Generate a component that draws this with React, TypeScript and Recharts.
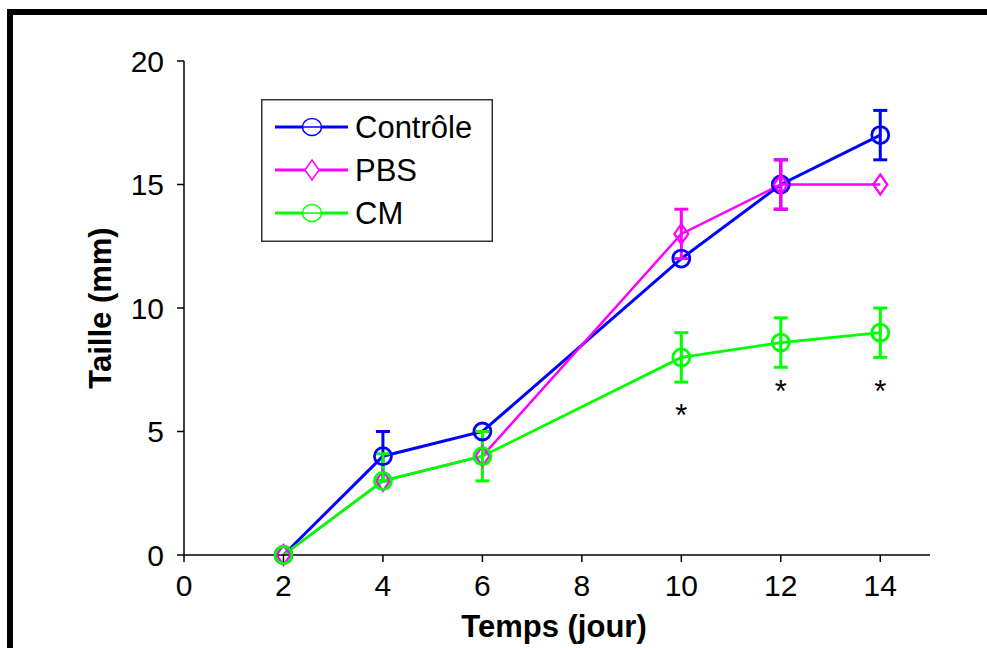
import React from "react";
import {
  ComposedChart,
  Line,
  Scatter,
  XAxis,
  YAxis,
  ErrorBar,
  Legend,
} from "recharts";

const days = [2, 4, 6, 10, 12, 14];
const controle = [0, 4, 5, 12, 15, 17];
const controleErr: (number | number[] | null)[] = [null, 1, null, null, 1, 1];
const pbs = [0, 3, 4, 13, 15, 15];
const pbsErr: (number | number[] | null)[] = [null, null, null, 1, 1, null];
const cm = [0, 3, 4, 8, 8.6, 9];
const cmErr: (number | number[] | null)[] = [null, [0, 1.1], 1, 1, 1, 1];

const starDays = [10, 12, 14];
const starLevels = [5.8, 6.75, 6.75];

const xTicks = [0, 2, 4, 6, 8, 10, 12, 14];
const yTicks = [0, 5, 10, 15, 20];

const seriesNames = ["Contrôle", "PBS", "CM"];
const seriesColors = ["#0000ff", "#ff00ff", "#00ff00"];

const data = days.map((d, i) => ({
  day: d,
  controle: controle[i],
  controleErr: controleErr[i],
  pbs: pbs[i],
  pbsErr: pbsErr[i],
  cm: cm[i],
  cmErr: cmErr[i],
}));

const stars = starDays.map((d, i) => ({ day: d, level: starLevels[i] }));

const FONT = "'Liberation Sans', Arial, sans-serif";

const ring = (color: string) => (props: any) => {
  const { cx, cy, index } = props;
  if (cx == null || cy == null) return <g key={index} />;
  return (
    <circle
      key={index}
      cx={cx}
      cy={cy}
      r={8.5}
      fill="none"
      stroke={color}
      strokeWidth={2.8}
    />
  );
};

const diamond = (color: string) => (props: any) => {
  const { cx, cy, index } = props;
  if (cx == null || cy == null) return <g key={index} />;
  return (
    <path
      key={index}
      d={`M${cx},${cy - 10}L${cx + 7},${cy}L${cx},${cy + 10}L${cx - 7},${cy}Z`}
      fill="none"
      stroke={color}
      strokeWidth={2.2}
    />
  );
};

const StarMark = (props: any) => {
  const { cx, cy } = props;
  return (
    <text
      x={cx}
      y={cy + 14}
      textAnchor="middle"
      fontSize={31}
      fontFamily={FONT}
      fill="#000"
    >
      *
    </text>
  );
};

const LegendBox = () => (
  <svg width={232} height={143} style={{ display: "block" }}>
    <rect x={0.75} y={0.75} width={230.5} height={141.5} fill="#fff" stroke="#333" strokeWidth={1.5} />
    {seriesNames.map((name, i) => {
      const cy = 28 + i * 43;
      const color = seriesColors[i];
      return (
        <g key={name}>
          <line x1={14} x2={87} y1={cy} y2={cy} stroke={color} strokeWidth={3} />
          {i === 1 ? (
            <path
              d={`M51,${cy - 10}L58,${cy}L51,${cy + 10}L44,${cy}Z`}
              fill="#fff"
              stroke={color}
              strokeWidth={1.5}
            />
          ) : (
            <ellipse cx={51} cy={cy} rx={9.5} ry={8.5} fill="#fff" stroke={color} strokeWidth={1.5} />
          )}
          {i !== 1 && <line x1={42} x2={60} y1={cy} y2={cy} stroke={color} strokeWidth={1.5} />}
          <text x={94} y={cy + 10.5} fontSize={31} fontFamily={FONT} fill="#000">
            {name}
          </text>
        </g>
      );
    })}
  </svg>
);

const YTitle = (props: any) => {
  const { viewBox } = props;
  const x = viewBox.x + 16;
  const y = viewBox.y + viewBox.height / 2;
  return (
    <text
      x={x}
      y={y}
      transform={`rotate(-90, ${x}, ${y})`}
      textAnchor="middle"
      dominantBaseline="central"
      fontSize={31}
      fontWeight="bold"
      fontFamily={FONT}
      fill="#000"
    >
      Taille (mm)
    </text>
  );
};

const XTitle = (props: any) => {
  const { viewBox } = props;
  return (
    <text
      x={viewBox.x + viewBox.width / 2 - 3}
      y={viewBox.y + 82}
      textAnchor="middle"
      fontSize={31}
      fontWeight="bold"
      fontFamily={FONT}
      fill="#000"
    >
      Temps (jour)
    </text>
  );
};

export default function App() {
  return (
    <div
      style={{
        position: "absolute",
        left: 0,
        top: 0,
        width: 987,
        height: 648,
        overflow: "hidden",
        background: "#fff",
      }}
    >
      <div
        style={{
          position: "absolute",
          left: 7,
          top: 9,
          right: -20,
          bottom: -20,
          borderTop: "6px solid #000",
          borderLeft: "6px solid #000",
        }}
      />
      <div style={{ position: "absolute", left: 0, top: 0 }}>
        <ComposedChart
          width={987}
          height={648}
          data={data}
          margin={{ top: 61, right: 57, left: 84, bottom: 8 }}
        >
          <XAxis
            dataKey="day"
            type="number"
            domain={[0, 15]}
            ticks={xTicks}
            height={85}
            stroke="#000"
            strokeWidth={1.5}
            tickSize={7}
            tickMargin={13}
            tick={{ fill: "#000", fontSize: 30, fontFamily: FONT }}
            label={<XTitle />}
          />
          <YAxis
            type="number"
            domain={[0, 20]}
            ticks={yTicks}
            width={100}
            stroke="#000"
            strokeWidth={1.5}
            tickSize={7}
            tickMargin={13}
            tick={{ fill: "#000", fontSize: 30, fontFamily: FONT }}
            label={<YTitle />}
          />
          <Legend
            layout="vertical"
            align="center"
            verticalAlign="middle"
            wrapperStyle={{ left: 261, top: 99, width: 232, height: 143 }}
            content={() => <LegendBox />}
          />
          <Line
            dataKey="controle"
            name={seriesNames[0]}
            stroke={seriesColors[0]}
            strokeWidth={3}
            dot={ring(seriesColors[0])}
            activeDot={false}
            isAnimationActive={false}
          >
            <ErrorBar dataKey="controleErr" direction="y" width={7} stroke={seriesColors[0]} strokeWidth={3} />
          </Line>
          <Line
            dataKey="pbs"
            name={seriesNames[1]}
            stroke={seriesColors[1]}
            strokeWidth={2.5}
            dot={diamond(seriesColors[1])}
            activeDot={false}
            isAnimationActive={false}
          >
            <ErrorBar dataKey="pbsErr" direction="y" width={7} stroke={seriesColors[1]} strokeWidth={3} />
          </Line>
          <Line
            dataKey="cm"
            name={seriesNames[2]}
            stroke={seriesColors[2]}
            strokeWidth={2.8}
            dot={ring(seriesColors[2])}
            activeDot={false}
            isAnimationActive={false}
          >
            <ErrorBar dataKey="cmErr" direction="y" width={7} stroke={seriesColors[2]} strokeWidth={3} />
          </Line>
          <Scatter
            data={stars}
            dataKey="level"
            shape={<StarMark />}
            isAnimationActive={false}
          />
        </ComposedChart>
      </div>
    </div>
  );
}
